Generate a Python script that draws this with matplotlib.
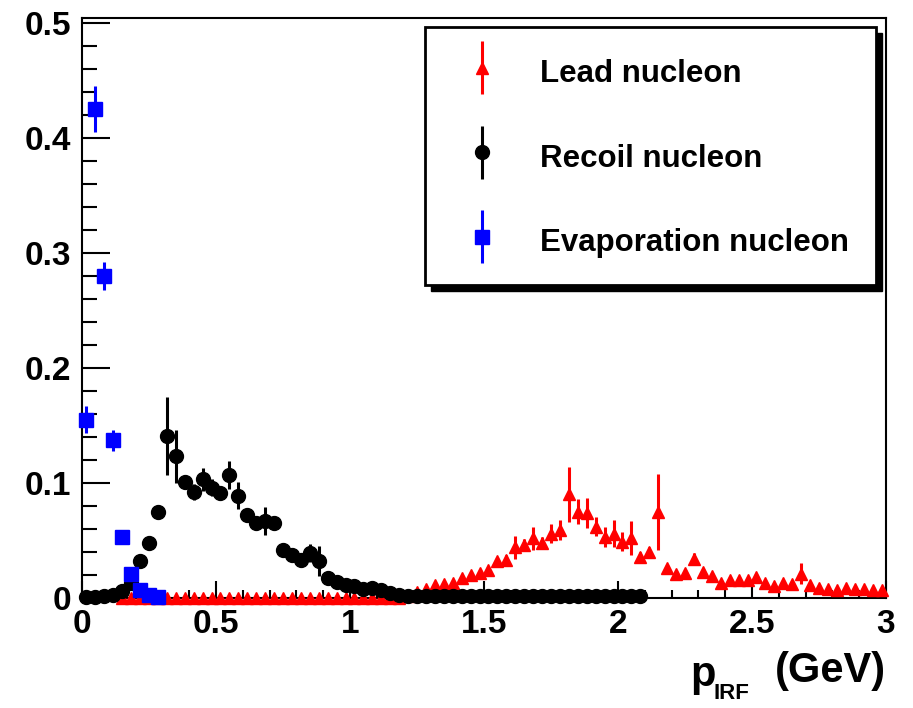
import matplotlib
matplotlib.use("Agg")
import matplotlib.pyplot as plt
import numpy as np
from matplotlib.legend_handler import HandlerErrorbar
from matplotlib.patches import Rectangle
from matplotlib.ticker import MultipleLocator, FuncFormatter

plt.rcParams['font.family'] = ['Liberation Sans', 'DejaVu Sans']
plt.rcParams['font.weight'] = 'bold'

# histogram binning: 90 bins over 0-3 GeV
bin_width = 3.0 / 90
bin_centers = (np.arange(90) + 0.5) * bin_width

# lead nucleon (bins 4..89)
lead_start = 4
lead_vals = [0.0] * 32 + [
    0.002, 0.005, 0.008, 0.011, 0.012, 0.013, 0.017, 0.020, 0.022, 0.024,
    0.032, 0.033, 0.044, 0.046, 0.052, 0.048, 0.056, 0.059, 0.090, 0.075,
    0.074, 0.062, 0.053, 0.056, 0.049, 0.052, 0.036, 0.040, 0.075, 0.026,
    0.021, 0.022, 0.034, 0.023, 0.019, 0.013, 0.016, 0.016, 0.016, 0.018,
    0.013, 0.010, 0.013, 0.012, 0.021, 0.011, 0.009, 0.008, 0.007, 0.009,
    0.008, 0.008, 0.007, 0.007]
lead_errs = [0.0] * 32 + [
    0.001, 0.001, 0.002, 0.002, 0.002, 0.002, 0.002, 0.003, 0.003, 0.003,
    0.004, 0.004, 0.010, 0.005, 0.010, 0.005, 0.008, 0.009, 0.024, 0.011,
    0.013, 0.008, 0.009, 0.012, 0.008, 0.015, 0.004, 0.004, 0.033, 0.003,
    0.003, 0.003, 0.005, 0.003, 0.003, 0.002, 0.002, 0.002, 0.002, 0.003,
    0.002, 0.002, 0.002, 0.002, 0.009, 0.002, 0.002, 0.002, 0.002, 0.002,
    0.002, 0.002, 0.002, 0.002]

# recoil nucleon (bins 0..62)
recoil_vals = [
    0.001, 0.001, 0.002, 0.003, 0.006, 0.013, 0.032, 0.048, 0.075, 0.141,
    0.123, 0.101, 0.092, 0.103, 0.096, 0.091, 0.107, 0.089, 0.072, 0.065,
    0.067, 0.065, 0.042, 0.037, 0.033, 0.039, 0.032, 0.017, 0.014, 0.011,
    0.010, 0.008, 0.009, 0.007, 0.004, 0.003, 0.002, 0.002, 0.002, 0.002,
    0.002, 0.002, 0.002, 0.002, 0.002, 0.002, 0.002, 0.002, 0.002, 0.002,
    0.002, 0.002, 0.002, 0.002, 0.002, 0.002, 0.002, 0.002, 0.002, 0.002,
    0.002, 0.002, 0.002]
recoil_errs = [
    0.001, 0.001, 0.001, 0.001, 0.002, 0.003, 0.004, 0.005, 0.006, 0.034,
    0.023, 0.006, 0.007, 0.010, 0.007, 0.006, 0.012, 0.012, 0.005, 0.005,
    0.012, 0.006, 0.004, 0.004, 0.005, 0.008, 0.013, 0.003, 0.002, 0.002,
    0.002, 0.002, 0.002, 0.002, 0.001, 0.001, 0.001, 0.001, 0.001, 0.001,
    0.001, 0.001, 0.001, 0.001, 0.001, 0.001, 0.001, 0.001, 0.001, 0.001,
    0.001, 0.001, 0.001, 0.001, 0.001, 0.001, 0.001, 0.001, 0.001, 0.001,
    0.001, 0.001, 0.001]

# evaporation nucleon (bins 0..8)
evap_vals = [0.155, 0.425, 0.280, 0.137, 0.053, 0.021, 0.007, 0.003, 0.001]
evap_errs = [0.012, 0.020, 0.012, 0.009, 0.003, 0.002, 0.001, 0.001, 0.001]

W, H = 913, 708
fig = plt.figure(figsize=(W / 100, H / 100), dpi=100)
ax = fig.add_axes([82 / W, 1 - 598 / H, (886 - 82) / W, (598 - 18) / H])

x_lead = bin_centers[lead_start:lead_start + len(lead_vals)]
x_recoil = bin_centers[:len(recoil_vals)]
x_evap = bin_centers[:len(evap_vals)]

lead = ax.errorbar(x_lead, lead_vals, yerr=lead_errs, fmt='^', color='#ff0000',
                   ms=9, elinewidth=2.2, capsize=0, clip_on=False, zorder=3)
recoil = ax.errorbar(x_recoil, recoil_vals, yerr=recoil_errs, fmt='o', color='black',
                     ms=10, elinewidth=2.2, capsize=0, clip_on=False, zorder=4)
evap = ax.errorbar(x_evap, evap_vals, yerr=evap_errs, fmt='s', color='#0000ff',
                   ms=9.5, elinewidth=2.2, capsize=0, clip_on=False, zorder=5)

ax.set_xlim(0, 3)
ax.set_ylim(0, 0.504)

fmt = FuncFormatter(lambda v, p: f"{v:g}")
ax.xaxis.set_major_locator(MultipleLocator(0.5))
ax.xaxis.set_minor_locator(MultipleLocator(0.1))
ax.yaxis.set_major_locator(MultipleLocator(0.1))
ax.yaxis.set_minor_locator(MultipleLocator(0.02))
ax.xaxis.set_major_formatter(fmt)
ax.yaxis.set_major_formatter(fmt)

ax.tick_params(axis='both', which='both', direction='in', width=1.5,
               labelsize=24, top=False, right=False)
ax.tick_params(axis='x', which='major', length=12, pad=8)
ax.tick_params(axis='x', which='minor', length=6)
ax.tick_params(axis='y', which='major', length=20, pad=8)
ax.tick_params(axis='y', which='minor', length=11)
for lab in ax.get_xticklabels() + ax.get_yticklabels():
    lab.set_fontweight('bold')
for sp in ax.spines.values():
    sp.set_linewidth(1.5)

# axis title: "p" with subscript "IRF", then "(GeV)"
ax.set_xlabel('(GeV)', fontsize=30, fontweight='bold', loc='right', labelpad=8)
fig.text(690 / W, 1 - 686 / H, 'p', fontsize=30, fontweight='bold',
         ha='left', va='baseline')
fig.text(713 / W, 1 - 699 / H, 'IRF', fontsize=16, fontweight='bold',
         ha='left', va='baseline')

leg = ax.legend([lead, recoil, evap],
                ['Lead nucleon', 'Recoil nucleon', 'Evaporation nucleon'],
                loc='upper right', bbox_to_anchor=(876 / W, 1 - 27 / H),
                bbox_transform=fig.transFigure, borderaxespad=0,
                prop={'family': 'Liberation Sans', 'weight': 'bold', 'size': 22.5},
                numpoints=1, handlelength=1.95, handleheight=1.4,
                handletextpad=0.88, borderpad=0.85, labelspacing=1.55,
                fancybox=False, edgecolor='black', framealpha=1,
                handler_map={type(lead): HandlerErrorbar(yerr_size=0.85)})
leg.get_frame().set_linewidth(2)

# drop shadow behind the legend box
fig.canvas.draw()
bb = leg.get_window_extent().transformed(fig.transFigure.inverted())
shadow = Rectangle((bb.x0 + 6 / W, bb.y0 - 6 / H), bb.width, bb.height,
                   transform=fig.transFigure, facecolor='black', edgecolor='black',
                   zorder=leg.get_zorder() - 0.1)
ax.add_artist(shadow)
shadow.set_clip_on(False)

fig.savefig('out.png', dpi=100)
